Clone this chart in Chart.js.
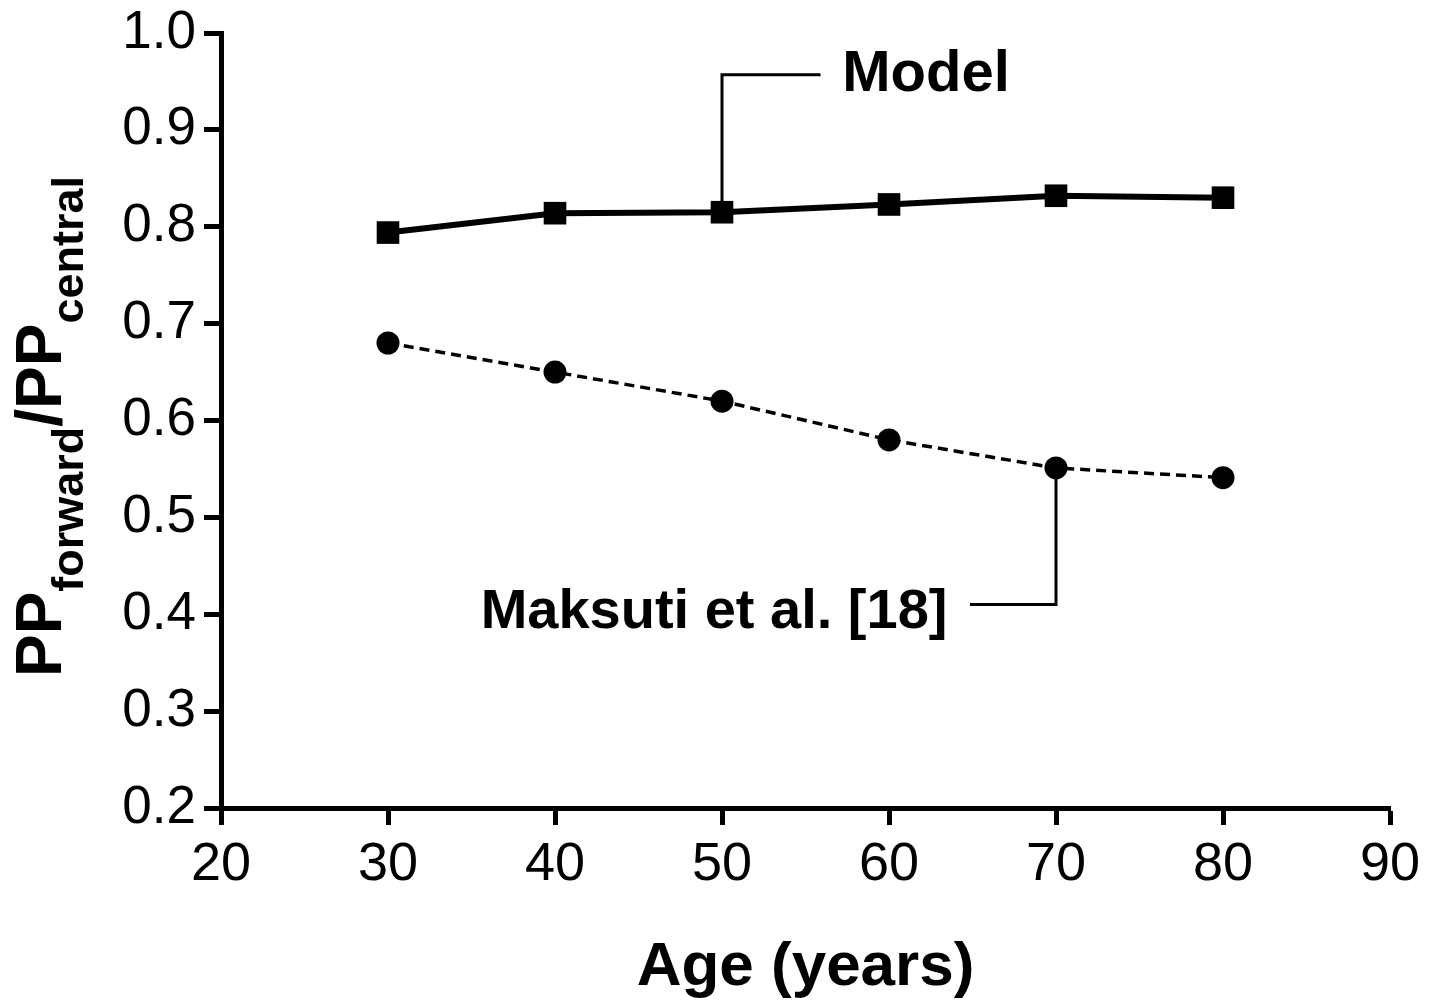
<!DOCTYPE html>
<html>
<head>
<meta charset="utf-8">
<script src="https://cdn.jsdelivr.net/npm/chart.js@4.4.1/dist/chart.umd.min.js"></script>
<style>
  html, body { margin: 0; padding: 0; background: #fff; }
  #wrap { width: 1434px; height: 1002px; }
</style>
</head>
<body>
<div id="wrap"><canvas id="ppChart" width="1434" height="1002"></canvas></div>
<script>
var ages = [30, 40, 50, 60, 70, 80];
var modelRatio = [0.794, 0.814, 0.815, 0.823, 0.832, 0.830];
var maksutiRatio = [0.680, 0.650, 0.620, 0.580, 0.551, 0.541];
var xTicks = [20, 30, 40, 50, 60, 70, 80, 90];
var yTicks = [0.2, 0.3, 0.4, 0.5, 0.6, 0.7, 0.8, 0.9, 1.0];

function toPoints(xs, ys) {
  return xs.map(function (x, i) { return { x: x, y: ys[i] }; });
}

// leader lines + labels, axis titles (subscripts need manual drawing)
var annotations = {
  id: 'annotations',
  afterDatasetsDraw: function (chart) {
    var c = chart.ctx, xs = chart.scales.x, ys = chart.scales.y;
    var area = chart.chartArea;
    c.save();
    c.strokeStyle = '#000';
    c.fillStyle = '#000';
    c.lineWidth = 3;
    c.lineCap = 'butt';

    // Model label
    var mx = xs.getPixelForValue(ages[2]);
    var my = ys.getPixelForValue(modelRatio[2]);
    var ly = ys.getPixelForValue(0.957);
    c.beginPath();
    c.moveTo(mx, my);
    c.lineTo(mx, ly);
    c.lineTo(xs.getPixelForValue(55.9), ly);
    c.stroke();
    c.font = 'bold 58px "Liberation Sans", Arial, sans-serif';
    c.textBaseline = 'middle';
    c.textAlign = 'left';
    c.fillText('Model', xs.getPixelForValue(57.2), ly);

    // Maksuti label
    var kx = xs.getPixelForValue(ages[4]);
    var ky = ys.getPixelForValue(maksutiRatio[4]);
    var hy = ys.getPixelForValue(0.41);
    c.beginPath();
    c.moveTo(kx, ky);
    c.lineTo(kx, hy);
    c.lineTo(xs.getPixelForValue(64.85), hy);
    c.stroke();
    c.font = 'bold 56px "Liberation Sans", Arial, sans-serif';
    c.textAlign = 'right';
    c.fillText('Maksuti et al. [18]', xs.getPixelForValue(63.5), hy + 8);

    // x title
    c.font = 'bold 62px "Liberation Sans", Arial, sans-serif';
    c.textAlign = 'center';
    c.textBaseline = 'alphabetic';
    c.fillText('Age (years)', (area.left + area.right) / 2, 985);

    // y title with subscripts
    var big = 'bold 64px "Liberation Sans", Arial, sans-serif';
    var small = 'bold 45px "Liberation Sans", Arial, sans-serif';
    var parts = [
      { t: 'PP', f: big, dy: 0 },
      { t: 'forward', f: small, dy: 22 },
      { t: '/PP', f: big, dy: 0 },
      { t: 'central', f: small, dy: 22 }
    ];
    var total = 0;
    parts.forEach(function (p) { c.font = p.f; p.w = c.measureText(p.t).width; total += p.w; });
    c.translate(61, (area.top + area.bottom) / 2 + 6);
    c.rotate(-Math.PI / 2);
    c.textAlign = 'left';
    var pos = -total / 2;
    parts.forEach(function (p) {
      c.font = p.f;
      c.fillText(p.t, pos, p.dy);
      pos += p.w;
    });
    c.restore();
  }
};

var ctx = document.getElementById('ppChart').getContext('2d');
var ppChart = new Chart(ctx, {
  type: 'line',
  data: {
    datasets: [{
      label: 'Model',
      data: toPoints(ages, modelRatio),
      borderColor: '#000',
      backgroundColor: '#000',
      borderWidth: 6,
      pointStyle: 'rect',
      pointRadius: 16,
      pointBorderWidth: 0,
      tension: 0
    }, {
      label: 'Maksuti et al. [18]',
      data: toPoints(ages, maksutiRatio),
      borderColor: '#000',
      backgroundColor: '#000',
      borderWidth: 3.5,
      borderDash: [10, 6],
      pointStyle: 'circle',
      pointRadius: 11.5,
      pointBorderWidth: 0,
      tension: 0
    }]
  },
  options: {
    responsive: false,
    animation: false,
    layout: { padding: { top: 33, right: 44, left: 0, bottom: 0 } },
    plugins: {
      legend: { display: false },
      tooltip: { enabled: false }
    },
    scales: {
      x: {
        type: 'linear',
        min: 20,
        max: 90,
        afterFit: function (s) { s.height = 194; },
        afterBuildTicks: function (s) { s.ticks = xTicks.map(function (v) { return { value: v }; }); },
        border: { display: true, color: '#000', width: 5 },
        grid: { display: true, drawOnChartArea: false, drawTicks: true, tickLength: 17, tickWidth: 5, tickColor: '#000' },
        ticks: {
          color: '#000',
          padding: 8,
          font: { family: '"Liberation Sans", Arial, sans-serif', size: 54 }
        }
      },
      y: {
        min: 0.2,
        max: 1.0,
        afterFit: function (s) { s.width = 221; },
        afterBuildTicks: function (s) { s.ticks = yTicks.map(function (v) { return { value: v }; }); },
        border: { display: true, color: '#000', width: 5 },
        grid: { display: true, drawOnChartArea: false, drawTicks: true, tickLength: 17, tickWidth: 5, tickColor: '#000' },
        ticks: {
          color: '#000',
          padding: 8,
          font: { family: '"Liberation Sans", Arial, sans-serif', size: 53, lineHeight: 0.9 },
          callback: function (v) { return Number(v).toFixed(1); }
        }
      }
    }
  },
  plugins: [annotations]
});
</script>
</body>
</html>
